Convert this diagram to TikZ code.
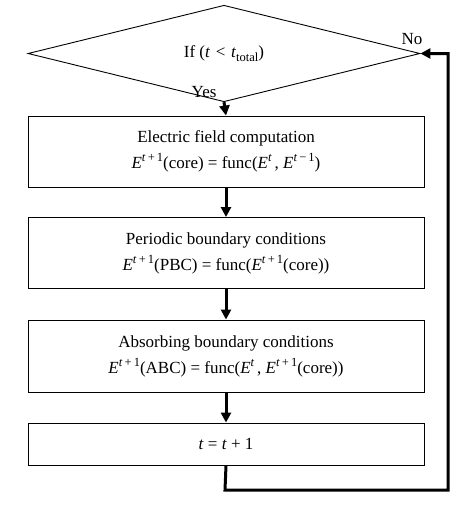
\documentclass[tikz,border=0pt]{standalone}
\usepackage{fontspec}
\setmainfont{Liberation Serif}
\usetikzlibrary{arrows.meta,shapes.geometric}
\newcommand{\vi}[1]{\textit{#1}}
\newcommand{\upr}[1]{\raisebox{0.4em}{\fontsize{12.5}{12.5}\selectfont #1}}
\newcommand{\lwr}[1]{\raisebox{-0.25em}{\fontsize{12.5}{12.5}\selectfont #1}}
\begin{document}
\begin{tikzpicture}[x=1pt,y=-1pt,
  every node/.style={font=\fontsize{17}{26}\selectfont},
  stepbox/.style={draw, line width=0.9pt, rectangle, minimum width=396pt, minimum height=71pt, align=center, inner sep=0pt},
  decision/.style={draw, line width=0.9pt, diamond, minimum width=392pt, minimum height=57pt, inner sep=0pt},
  flow/.style={line width=3pt, -{Triangle[length=10pt,width=10pt]}}]
\useasboundingbox (0,0) rectangle (474,517);
\node[decision] (d) at (224,53.5) {If (\vi{t}\,\,<\,\,\vi{t}\lwr{total})};
\node[stepbox] (b1) at (226,151.5) {Electric field computation\\ \vi{E}\upr{\vi{t}\,+\,1}(core) = func(\vi{E}\upr{\vi{t}}\,, \vi{E}\upr{\vi{t}\,−\,1})};
\node[stepbox] (b2) at (226,253) {Periodic boundary conditions\\ \vi{E}\upr{\vi{t}\,+\,1}(PBC) = func(\vi{E}\upr{\vi{t}\,+\,1}(core))};
\node[stepbox, minimum height=72pt] (b3) at (226,356) {Absorbing boundary conditions\\ \vi{E}\upr{\vi{t}\,+\,1}(ABC) = func(\vi{E}\upr{\vi{t}}\,, \vi{E}\upr{\vi{t}\,+\,1}(core))};
\node[stepbox, minimum height=42pt] (b4) at (226,444) {\vi{t} = \vi{t} + 1};
\coordinate (c1) at (225,490);
\coordinate (c2) at (448,490);
\coordinate (c3) at (448,53.5);
\draw[flow] (d.south) -- (b1.north);
\draw[flow] (b1.south) -- (b2.north);
\draw[flow] (b2.south) -- (b3.north);
\draw[flow] (b3.south) -- (b4.north);
\draw[flow] (b4.south) -- (c1) -- (c2) -- (c3) -- (d.east);
\node[anchor=east] (yes) at (220,92) {Yes};
\node (no) at (412,39) {No};
\end{tikzpicture}
\end{document}
